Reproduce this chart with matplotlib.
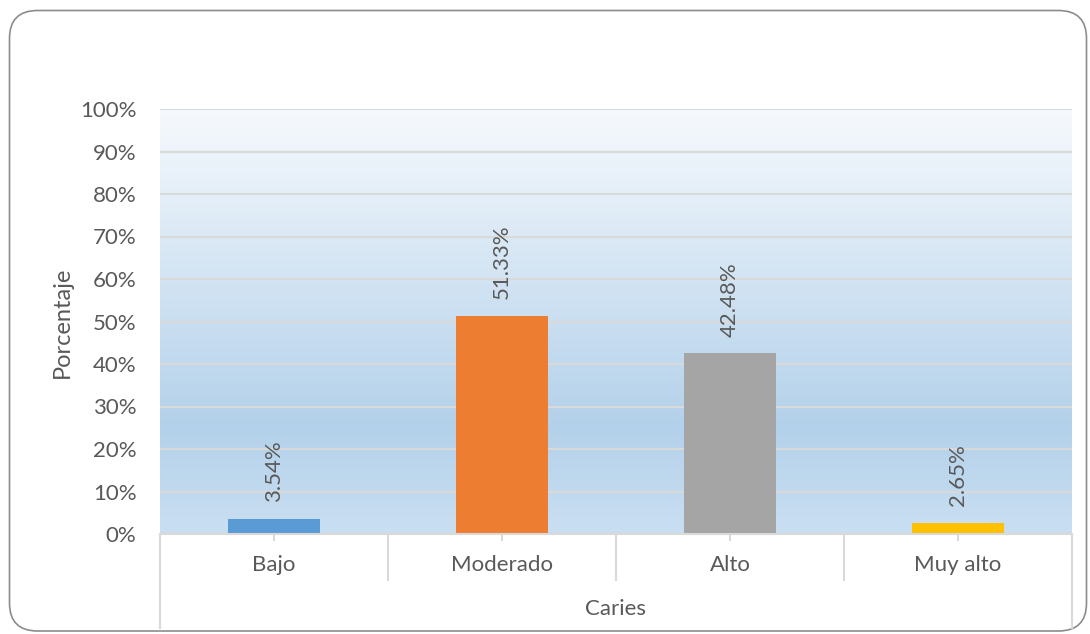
import numpy as np
import matplotlib.pyplot as plt
import matplotlib.patches as mpatches
from matplotlib.colors import LinearSegmentedColormap
from matplotlib.lines import Line2D
from matplotlib.transforms import IdentityTransform

categorias = ['Bajo', 'Moderado', 'Alto', 'Muy alto']
porcentajes = [3.54, 51.33, 42.48, 2.65]
colores = ['#5b9bd5', '#ed7d31', '#a5a5a5', '#ffc000']
grupo = 'Caries'

plt.rcParams['font.family'] = ['Lato', 'DejaVu Sans']
gris = '#595959'
fs = 16

W, H = 1090, 634
fig = plt.figure(figsize=(W / 100, H / 100), dpi=100)

# marco redondeado del grafico
marco = mpatches.FancyBboxPatch((9.5, 3), 1077, 620.5,
                                boxstyle='round,pad=0,rounding_size=28',
                                transform=IdentityTransform(),
                                facecolor='white', edgecolor='#8c8c8c', lw=1.2,
                                zorder=-1)
fig.patches.append(marco)

x0, x1, y0, y1 = 160, 1072, 534, 109
ax = fig.add_axes([x0 / W, 1 - y0 / H, (x1 - x0) / W, (y0 - y1) / H])
ax.patch.set_alpha(0)

# fondo degradado del area de trazado
cmap = LinearSegmentedColormap.from_list(
    'fondo', [(0, '#cadff2'), (0.25, '#b3d1ea'), (1, '#f6f9fd')])
grad = np.linspace(0, 1, 256).reshape(-1, 1)
ax.imshow(grad, cmap=cmap, origin='lower', aspect='auto',
          extent=[-0.5, 3.5, 0, 100], zorder=0)

x = np.arange(len(categorias))
ax.bar(x, porcentajes, width=0.4, color=colores, zorder=3)
for xi, v in zip(x, porcentajes):
    ax.annotate(f'{v:.2f}%', (xi, v), xytext=(0, 12), textcoords='offset points',
                rotation=90, ha='center', va='bottom', fontsize=fs, color=gris, zorder=4)

ax.set_xlim(-0.5, 3.5)
ax.set_ylim(0, 100)
ax.set_yticks(np.arange(0, 101, 10))
ax.set_yticklabels([f'{t}%' for t in range(0, 101, 10)])
ax.yaxis.grid(True, color='#d9d9d9', lw=1.5, zorder=1)
ax.set_axisbelow(False)
ax.tick_params(axis='y', length=0, pad=17, labelsize=fs, labelcolor=gris)
ax.set_xticks([])
for s in ax.spines.values():
    s.set_visible(False)

# eje de categorias con lineas divisorias
def fy(py):
    return 1 - py / H

lc = '#d9d9d9'
fig.add_artist(Line2D([x0 / W, x1 / W], [fy(y0), fy(y0)], color=lc, lw=1.5))
for i in range(len(categorias) + 1):
    px = x0 + i * (x1 - x0) / len(categorias)
    bajo = 628 if i in (0, len(categorias)) else 580
    fig.add_artist(Line2D([px / W, px / W], [fy(y0), fy(bajo)], color=lc, lw=1.5))
for i, c in enumerate(categorias):
    px = x0 + (i + 0.5) * (x1 - x0) / len(categorias)
    fig.add_artist(Line2D([px / W, px / W], [fy(y0), fy(540)], color=lc, lw=1.5))
    fig.text(px / W, fy(565), c, ha='center', va='center', fontsize=fs, color=gris)

fig.text((x0 + x1) / 2 / W, fy(609), grupo, ha='center', va='center',
         fontsize=fs, color=gris)
fig.text(62 / W, fy(322), 'Porcentaje', rotation=90, ha='center', va='center',
         fontsize=fs + 1, color=gris)

fig.savefig('out.png', dpi=100)
